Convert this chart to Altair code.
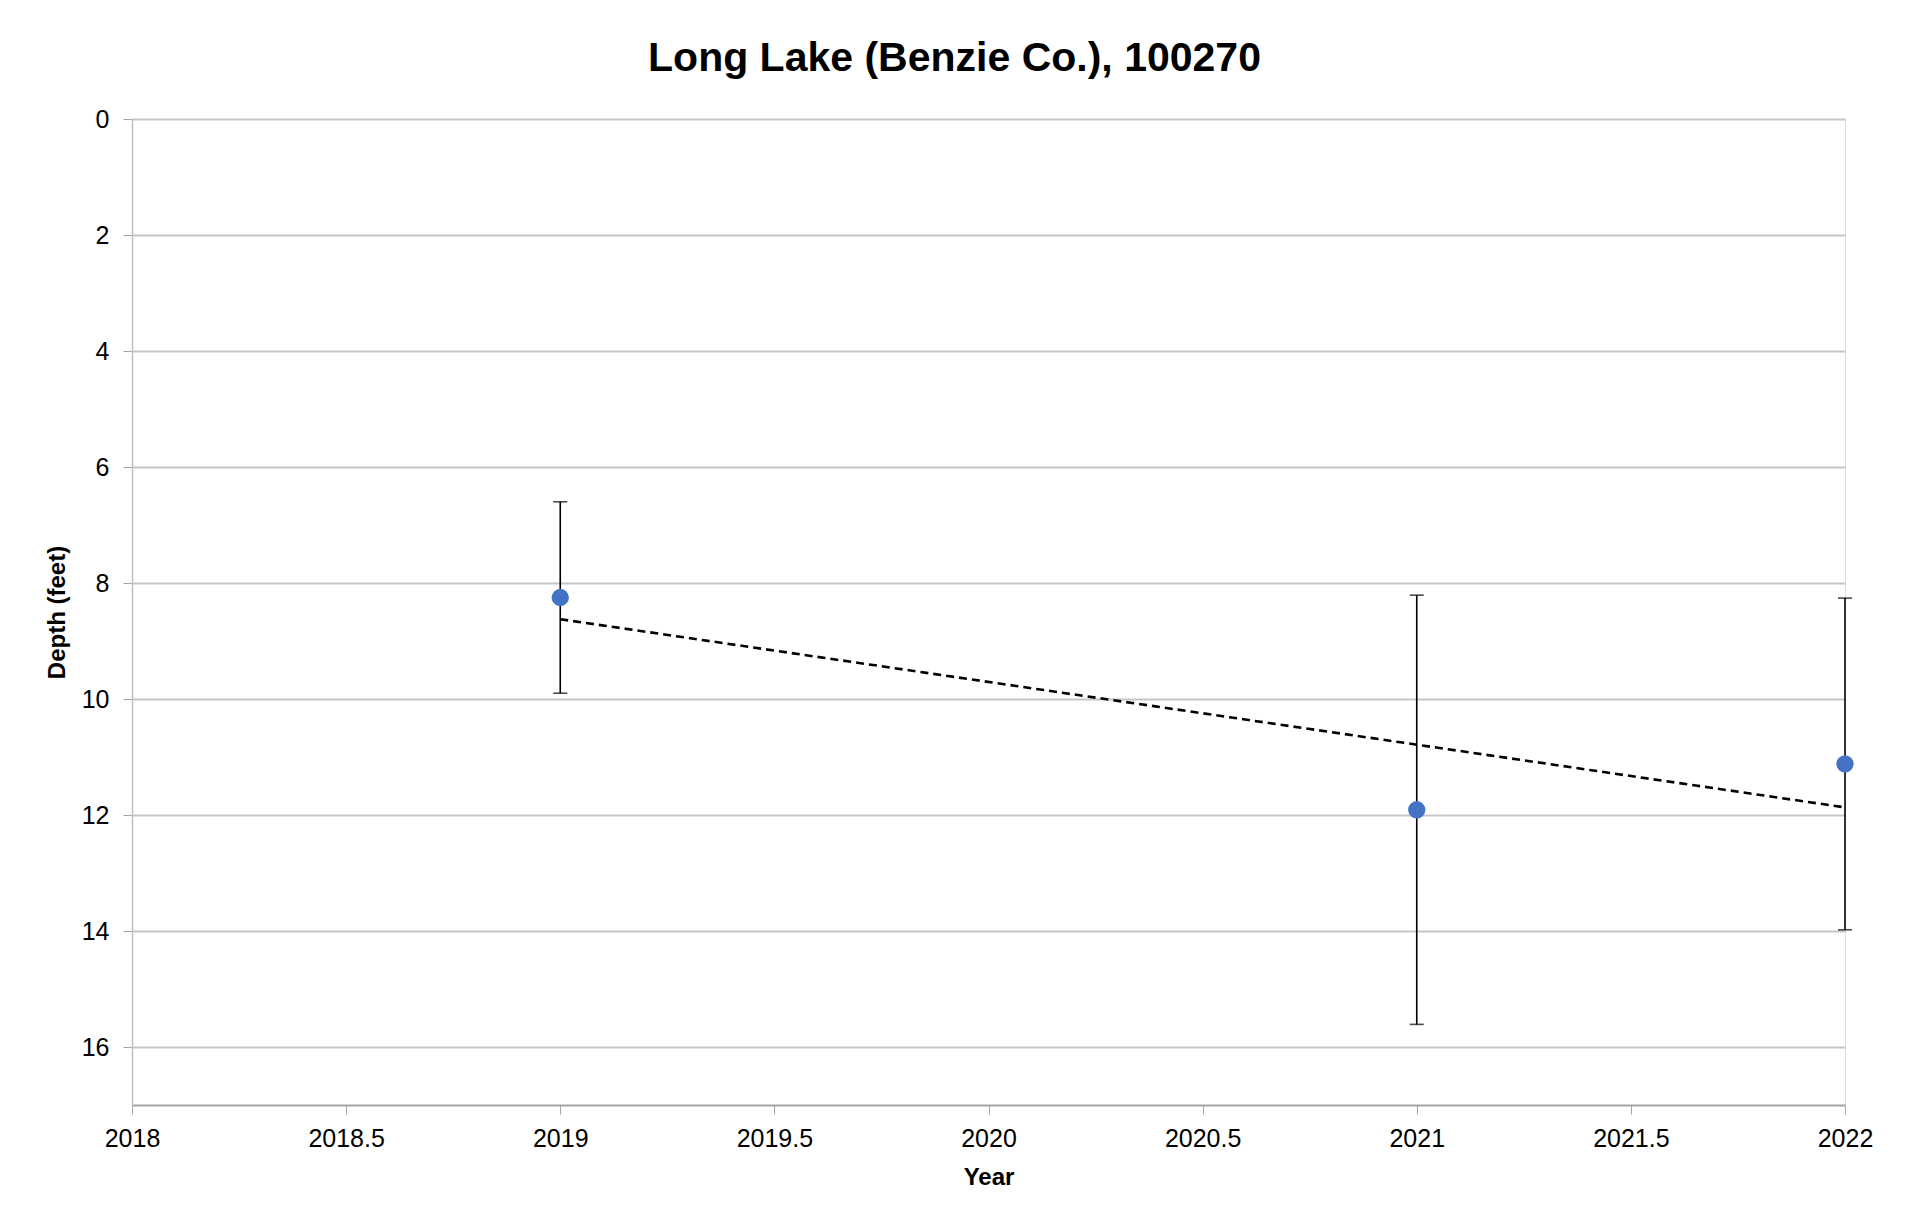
import altair as alt
import pandas as pd

# ---- data ----
years = [2019, 2021, 2022]
depths = [8.25, 11.91, 11.12]
errors = [1.65, 3.70, 2.86]
x_ticks = [2018, 2018.5, 2019, 2019.5, 2020, 2020.5, 2021, 2021.5, 2022]
y_ticks = [0, 2, 4, 6, 8, 10, 12, 14, 16]

df = pd.DataFrame({"year": years, "depth": depths, "err": errors})
df["lo"] = df["depth"] - df["err"]
df["hi"] = df["depth"] + df["err"]

FONT = "Liberation Sans"
GRID = "#C6C6C6"

xscale = alt.Scale(domain=[2018, 2022], nice=False, zero=False)
yscale = alt.Scale(domain=[0, 17], reverse=True, nice=False, zero=False)

xaxis = alt.Axis(
    values=x_ticks, format=".1~f", title="Year", grid=False, labelFlush=False,
    domainColor="#A6A6A6", domainWidth=2, tickColor="#A6A6A6", tickWidth=1, tickSize=9,
    labelFont=FONT, labelFontSize=25, labelColor="black", labelPadding=12,
    titleFont=FONT, titleFontSize=24, titleFontWeight="bold", titleColor="black", titlePadding=14,
)
yaxis = alt.Axis(
    values=y_ticks, format="d", title="Depth (feet)", grid=True, gridColor=GRID, gridWidth=2,
    domainColor="#BFBFBF", domainWidth=1.5, tickColor="#A6A6A6", tickWidth=1, tickSize=9,
    labelFont=FONT, labelFontSize=25, labelColor="black", labelPadding=14,
    titleFont=FONT, titleFontSize=24, titleFontWeight="bold", titleColor="black", titlePadding=12,
)

base = alt.Chart(df)

bars = base.mark_rule(color="black", strokeWidth=1.6).encode(
    x=alt.X("year:Q", scale=xscale, axis=xaxis),
    y=alt.Y("lo:Q", scale=yscale, axis=yaxis),
    y2="hi:Q",
)
cap_lo = base.mark_tick(orient="horizontal", size=14, thickness=1.6, color="black").encode(
    x="year:Q", y="lo:Q"
)
cap_hi = base.mark_tick(orient="horizontal", size=14, thickness=1.6, color="black").encode(
    x="year:Q", y="hi:Q"
)
trend = base.transform_regression("year", "depth").mark_line(
    color="black", strokeDash=[8, 5], strokeWidth=2.6
).encode(x="year:Q", y="depth:Q")
points = base.mark_circle(size=300, color="#4472C4", opacity=1).encode(
    x="year:Q", y="depth:Q"
)

chart = alt.layer(bars, cap_lo, cap_hi, trend, points).properties(
    width=1713,
    height=986,
    title=alt.TitleParams(
        "Long Lake (Benzie Co.), 100270",
        font=FONT, fontSize=41, fontWeight="bold", color="black",
        anchor="middle", offset=27, dx=-34,
    ),
    autosize=alt.AutoSizeParams(type="none"),
    padding={"left": 124, "top": 111, "right": 50, "bottom": 100},
).configure_view(stroke="transparent").configure(background="white")

chart.save("out.html", embed_options={"renderer": "svg", "actions": False})
